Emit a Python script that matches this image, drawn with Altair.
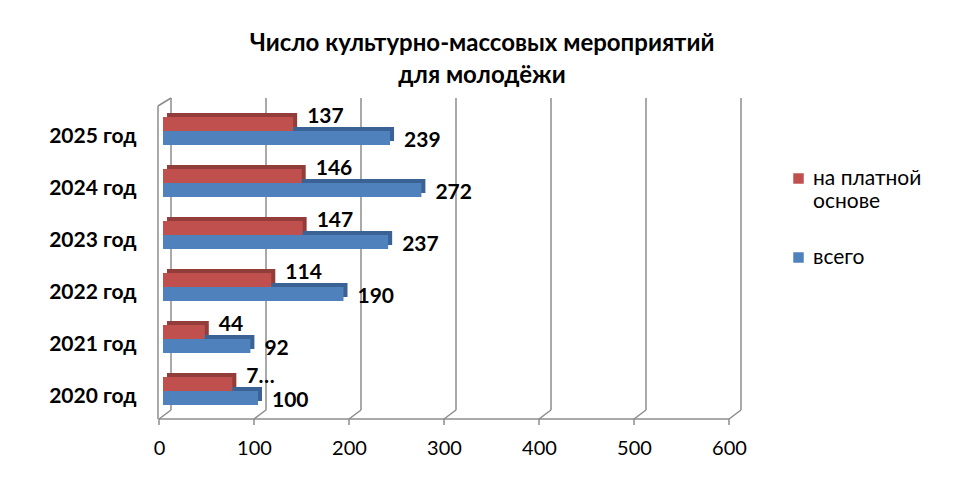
import altair as alt
import pandas as pd

years = ["2020 год", "2021 год", "2022 год", "2023 год", "2024 год", "2025 год"]
total = [100, 92, 190, 237, 272, 239]
paid = [73, 44, 114, 147, 146, 137]
paid_labels = ["7…", "44", "114", "147", "146", "137"]
total_labels = ["100", "92", "190", "237", "272", "239"]
series_names = ["на платной основе", "всего"]
ticks = [0, 100, 200, 300, 400, 500, 600]

RED, BLUE = "#C0504D", "#4F81BD"
RED_D, BLUE_D = "#933D3A", "#3A6295"
GRID = "#8C8C8C"
FONT = "Lato"

rows = []
for y, v, l in zip(years, paid, paid_labels):
    rows.append({"year": y, "series": series_names[0], "value": v, "label": l})
for y, v, l in zip(years, total, total_labels):
    rows.append({"year": y, "series": series_names[1], "value": v, "label": l})
df = pd.DataFrame(rows)
tdf = pd.DataFrame({"tick": ticks})
zdf = pd.DataFrame({"tick": [0]})
fdf = pd.DataFrame({"a": [0], "b": [600]})

W, H = 570, 312
xs = alt.Scale(domain=[0, 600], nice=False)
ysc = alt.Scale(domain=years[::-1], paddingInner=0, paddingOuter=0)

X = alt.X("value:Q", scale=xs,
          axis=alt.Axis(values=ticks, domain=False, ticks=False, grid=False,
                        labelOffset=-4, labelPadding=21, labelFontSize=20,
                        labelFont=FONT, labelColor="#000", labelFlush=False,
                        title=None))
Y = alt.Y("year:N", scale=ysc, sort=years[::-1],
          axis=alt.Axis(domain=False, ticks=False, grid=False, labelPadding=27,
                        labelOffset=6, labelFontSize=21, labelFontWeight="bold",
                        labelFont=FONT, labelColor="#000", title=None))

color = alt.Color("series:N",
                  scale=alt.Scale(domain=series_names, range=[RED, BLUE]),
                  legend=alt.Legend(orient="none", legendX=625, legendY=63,
                                    title=None, symbolType="square",
                                    symbolSize=110, symbolStrokeWidth=0,
                                    labelFontSize=21, labelFont=FONT,
                                    labelColor="#000", rowPadding=34,
                                    labelLimit=300,
                                    labelExpr="datum.label == 'на платной основе' ? ['на платной', 'основе'] : datum.label"))

base = alt.Chart(df)
blue_f = alt.datum.series == series_names[1]
red_f = alt.datum.series == series_names[0]

tick_base = alt.Chart(tdf)
grid = tick_base.mark_rule(color=GRID, strokeWidth=1.5, xOffset=8).encode(
    x=alt.X("tick:Q", scale=xs), y=alt.value(-7), y2=alt.value(305))
diag = tick_base.mark_rule(color=GRID, strokeWidth=1.5, xOffset=-4, x2Offset=8).encode(
    x=alt.X("tick:Q", scale=xs), x2="tick:Q", y=alt.value(314), y2=alt.value(305))
tmarks = tick_base.mark_rule(color=GRID, strokeWidth=1.5, xOffset=-4).encode(
    x=alt.X("tick:Q", scale=xs), y=alt.value(314), y2=alt.value(320))
floor = alt.Chart(fdf).mark_rule(color=GRID, strokeWidth=1.5, xOffset=-4, x2Offset=-4).encode(
    x=alt.X("a:Q", scale=xs), x2="b:Q", y=alt.value(314), y2=alt.value(314))
wall = alt.Chart(zdf).mark_rule(color=GRID, strokeWidth=1.5, xOffset=-5).encode(
    x=alt.X("tick:Q", scale=xs), y=alt.value(1), y2=alt.value(314))
wall_top = alt.Chart(zdf).mark_rule(color=GRID, strokeWidth=1.5, xOffset=-5, x2Offset=8).encode(
    x=alt.X("tick:Q", scale=xs), x2="tick:Q", y=alt.value(1), y2=alt.value(-7))

blue_sh = base.transform_filter(blue_f).mark_bar(
    color=BLUE_D, height=14, xOffset=4, x2Offset=4, yOffset=3, y2Offset=3).encode(x=X, y=Y)
blue_bar = base.transform_filter(blue_f).mark_bar(
    height=14, yOffset=7, y2Offset=7).encode(x=X, y=Y, color=color)
red_sh = base.transform_filter(red_f).mark_bar(
    color=RED_D, height=14, xOffset=4, x2Offset=4, yOffset=-11, y2Offset=-11).encode(x=X, y=Y)
red_bar = base.transform_filter(red_f).mark_bar(
    height=14, yOffset=-7, y2Offset=-7).encode(x=X, y=Y, color=color)

red_txt = base.transform_filter(red_f).mark_text(
    align="left", baseline="middle", dx=14, dy=-14, fontSize=21,
    fontWeight="bold", font=FONT, color="#000").encode(x=X, y=Y, text="label:N")
blue_txt = base.transform_filter(blue_f).mark_text(
    align="left", baseline="middle", dx=14, dy=10, fontSize=21,
    fontWeight="bold", font=FONT, color="#000").encode(x=X, y=Y, text="label:N")

chart = alt.layer(
    grid, diag, tmarks, floor, wall, wall_top,
    blue_sh, blue_bar, red_sh, red_bar, red_txt, blue_txt
).properties(
    width=W, height=H,
    background="white",
    title=alt.TitleParams(["Число культурно-массовых мероприятий", "для молодёжи"],
                          font=FONT, fontSize=24, fontWeight="bold", color="#000",
                          lineHeight=32, dx=34, offset=9, anchor="middle"),
    padding={"left": 155, "top": 97, "right": 215, "bottom": 50},
    autosize="none",
).configure_view(stroke=None, strokeWidth=0)

chart.save("out.html", embed_options={"renderer": "svg", "actions": False})
